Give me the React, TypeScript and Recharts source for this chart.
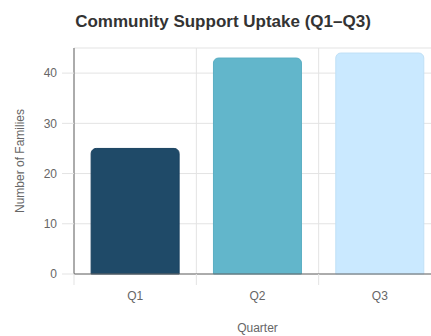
import React from 'react';
import {
  BarChart,
  Bar,
  XAxis,
  YAxis,
  CartesianGrid,
  Cell,
} from 'recharts';

// Quarterly uptake figures
const quarters = ['Q1', 'Q2', 'Q3'];
const families = [25, 43, 44];
const barColors = ['#1f4a68', '#62b6cb', '#cae9ff'];
const barEdges = ['#1a4260', '#5aaec3', '#c0e0f6'];
const yTicks = [0, 10, 20, 30, 40];
const boundTicks = [0, 1, 2, 3];

const chartData = quarters.map((q, i) => ({ quarter: q, families: families[i], pos: i + 0.5 }));

const FONT = 'Arial, "Liberation Sans", Helvetica, sans-serif';

const App: React.FC = () => {
  return (
    <div
      style={{
        position: 'absolute',
        left: 0,
        top: 0,
        width: 431,
        height: 336,
        overflow: 'hidden',
        background: '#ffffff',
        fontFamily: FONT,
      }}
    >
      <div
        style={{
          position: 'absolute',
          left: 0,
          top: 12,
          width: 446,
          textAlign: 'center',
          fontSize: 17,
          fontWeight: 'bold',
          color: '#333333',
        }}
      >
        Community Support Uptake (Q1–Q3)
      </div>
      <BarChart
        width={446}
        height={336}
        data={chartData}
        margin={{ top: 48, right: 5, left: 0, bottom: 0 }}
        barCategoryGap="14%"
        style={{ fontFamily: FONT }}
      >
        <CartesianGrid stroke="#e3e3e3" xAxisId="bounds" />
        {/* boundary ticks sit right under the plot, category labels below them */}
        <XAxis
          xAxisId="bounds"
          type="number"
          dataKey="pos"
          domain={[0, 3]}
          ticks={boundTicks}
          height={11}
          tickSize={11}
          tickLine={{ stroke: '#e3e3e3' }}
          axisLine={{ stroke: '#666666' }}
          tickFormatter={() => ''}
        />
        <XAxis
          xAxisId="cat"
          dataKey="quarter"
          height={51}
          tickSize={0}
          tickMargin={6}
          axisLine={false}
          tickLine={false}
          tick={{ fill: '#666666', fontSize: 12 }}
          label={{ value: 'Quarter', position: 'insideBottom', offset: 4, fill: '#666666', fontSize: 12 }}
        />
        <YAxis
          width={74}
          domain={[0, 45]}
          ticks={yTicks}
          tickSize={12}
          tickMargin={5}
          tickLine={{ stroke: '#e3e3e3' }}
          axisLine={{ stroke: '#666666' }}
          tick={{ fill: '#666666', fontSize: 12 }}
          label={{
            value: 'Number of Families',
            angle: -90,
            position: 'insideLeft',
            offset: 20,
            style: { textAnchor: 'middle' },
            fill: '#666666',
            fontSize: 12,
          }}
        />
        <Bar dataKey="families" xAxisId="cat" radius={[5, 5, 0, 0]} strokeWidth={1} isAnimationActive={false}>
          {chartData.map((entry, index) => (
            <Cell key={`cell-${entry.quarter}`} fill={barColors[index]} stroke={barEdges[index]} />
          ))}
        </Bar>
      </BarChart>
    </div>
  );
};

export default App;
